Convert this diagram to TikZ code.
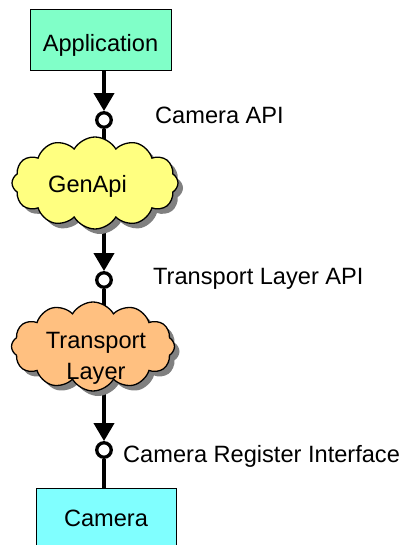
\documentclass[tikz,border=0pt]{standalone}
\usepackage{fontspec}
\setmainfont{Liberation Sans}
\usetikzlibrary{shapes.symbols,shadows,arrows.meta,backgrounds}
\definecolor{appfill}{RGB}{128,255,200}
\definecolor{camfill}{RGB}{128,255,255}
\definecolor{genfill}{RGB}{255,255,128}
\definecolor{tlfill}{RGB}{255,192,128}
\definecolor{shadowgray}{RGB}{128,128,128}
\begin{document}
\begin{tikzpicture}[x=1pt,y=-1pt,
  txt/.style={font=\fontsize{23.6pt}{31pt}\selectfont, inner sep=0pt},
  box/.style={draw=black, line width=1pt, rectangle, inner sep=0pt, txt, text depth=0pt},
  cloudbox/.style={cloud, cloud puffs=12, cloud puff arc=120, cloud ignores aspect,
    draw=black, line width=1.3pt, inner sep=0pt,
    drop shadow={shadow xshift=5pt, shadow yshift=-5pt, fill=shadowgray, opacity=1}},
  port/.style={circle, draw=black, fill=white, line width=3.3pt, minimum size=14.5pt, inner sep=0pt},
  conn/.style={line width=3.8pt, draw=black},
  flow/.style={conn, -{Triangle[width=20pt,length=18pt]}},
  lbl/.style={txt, anchor=base west}
]
\useasboundingbox (0,0) rectangle (404,545);
\node[box, fill=appfill, minimum width=141pt, minimum height=61pt, text height=23pt] (app) at (100.5,40.5) {Application};
\node[cloudbox, fill=genfill, minimum width=166pt, minimum height=92pt] (genapi) at (95,183) {};
\node[txt, anchor=base] (gentext) at (87.5,193) {GenApi};
\node[cloudbox, fill=tlfill, minimum width=163pt, minimum height=89pt] (tl) at (93,346.5) {};
\node[txt, align=center] (tltext) at (96,358.5) {Transport\\Layer};
\node[box, fill=camfill, minimum width=140pt, minimum height=60pt, text height=16pt] (cam) at (106,518) {Camera};
\node[port] (c1) at (104,120) {};
\node[port] (c2) at (104,280) {};
\node[port] (c3) at (104,450) {};
\node[lbl] (l1) at (155,124) {Camera API};
\node[lbl] (l2) at (153,284) {Transport Layer API};
\node[lbl] (l3) at (123,462) {Camera Register Interface};
\begin{scope}[on background layer]
  \draw[flow] (c1 |- app.south) -- (c1.north);
  \draw[conn] (c1.south) -- (c1 |- genapi.center);
  \draw[flow] (c2 |- genapi.center) -- (c2.north);
  \draw[conn] (c2.south) -- (c2 |- tl.center);
  \draw[flow] (c3 |- tl.center) -- (c3.north);
  \draw[conn] (c3.south) -- (c3 |- cam.north);
\end{scope}
\end{tikzpicture}
\end{document}
